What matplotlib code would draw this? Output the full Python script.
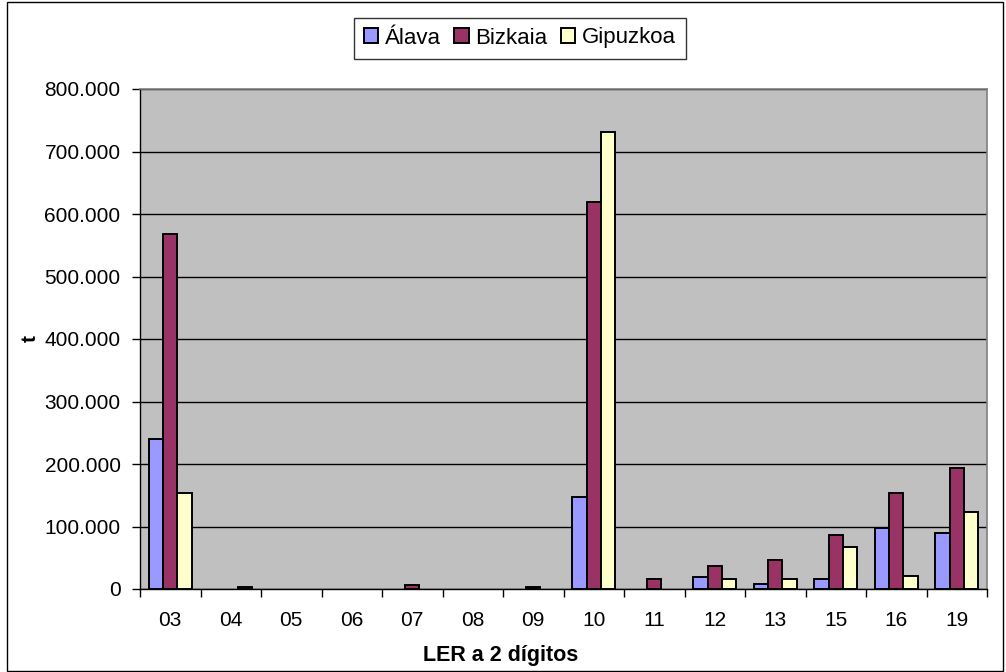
import matplotlib
matplotlib.use("Agg")
import matplotlib.pyplot as plt
import numpy as np
from matplotlib.patches import Rectangle

plt.rcParams['font.family'] = ['Liberation Sans', 'DejaVu Sans']

categories = ["03", "04", "05", "06", "07", "08", "09", "10", "11", "12", "13", "15", "16", "19"]
alava =    [239500, 0, 0, 0, 0, 0, 0, 147700, 0, 18700, 7500, 15500, 98000, 89000]
bizkaia =  [568000, 0, 0, 0, 6500, 0, 3000, 618700, 16000, 37000, 46000, 86000, 153000, 193000]
gipuzkoa = [153600, 3000, 0, 0, 0, 0, 0, 731700, 0, 15500, 15500, 67700, 21000, 122700]
series_names = ["Álava", "Bizkaia", "Gipuzkoa"]
colors = ["#9999FF", "#993366", "#FFFFCC"]
yticks = [0, 100000, 200000, 300000, 400000, 500000, 600000, 700000, 800000]
ytick_labels = ["0", "100.000", "200.000", "300.000", "400.000", "500.000", "600.000", "700.000", "800.000"]

W, H = 1006, 672
fig = plt.figure(figsize=(W / 100, H / 100), dpi=100)
fig.patch.set_facecolor("white")
ax = fig.add_axes([140 / W, 1 - 589 / H, (987 - 140) / W, (589 - 89) / H])
ax.set_facecolor("#C0C0C0")

x = np.arange(len(categories))
bw = 0.236
for i, (vals, name, c) in enumerate(zip([alava, bizkaia, gipuzkoa], series_names, colors)):
    v = np.array(vals, dtype=float)
    m = v > 0
    ax.bar(x[m] + (i - 1) * bw, v[m], width=bw, color=c, edgecolor="black",
           linewidth=1.4, label=name, zorder=3)

ax.set_xlim(-0.5, len(categories) - 0.5)
ax.set_ylim(0, 800000)
ax.set_yticks(yticks)
ax.set_yticklabels(ytick_labels, fontsize=15)
ax.yaxis.grid(True, color="black", linewidth=1.0, zorder=1)
ax.set_axisbelow(True)

# x ticks at boundaries, labels at centers
ax.set_xticks(np.arange(-0.5, len(categories) + 0.5, 1.0))
ax.set_xticklabels([])
ax.set_xticks(x, minor=True)
ax.set_xticklabels(categories, minor=True, fontsize=15)
ax.tick_params(axis="x", which="major", direction="out", length=6, width=1, color="black")
ax.tick_params(axis="x", which="minor", length=0, pad=16)
ax.tick_params(axis="y", direction="out", length=6, width=1, color="black", pad=8)

for s in ["top", "right"]:
    ax.spines[s].set_color("#808080")
    ax.spines[s].set_linewidth(1.2)
for s in ["left", "bottom"]:
    ax.spines[s].set_color("black")
    ax.spines[s].set_linewidth(1.0)

fig.text(30 / W, 1 - 339 / H, "t", ha="center", va="center", rotation=90,
         fontsize=15, fontweight="bold")
fig.text(501 / W, 1 - 655 / H, "LER a 2 dígitos", ha="center", va="center",
         fontsize=15.5, fontweight="bold")

leg = fig.legend(loc="center", bbox_to_anchor=(520 / W, 1 - 38 / H), ncol=3,
                 fontsize=16, frameon=True, fancybox=False, edgecolor="black",
                 handlelength=0.65, handleheight=0.65, handletextpad=0.3,
                 columnspacing=0.6, borderpad=0.45)
leg.get_frame().set_linewidth(1.0)

# chart area border
fig.patches.append(Rectangle((7 / W, 1 / H), (1003 - 7) / W, (670 - 1) / H,
                             transform=fig.transFigure, fill=False,
                             edgecolor="black", linewidth=1.0))

fig.savefig("out.png", dpi=100)
